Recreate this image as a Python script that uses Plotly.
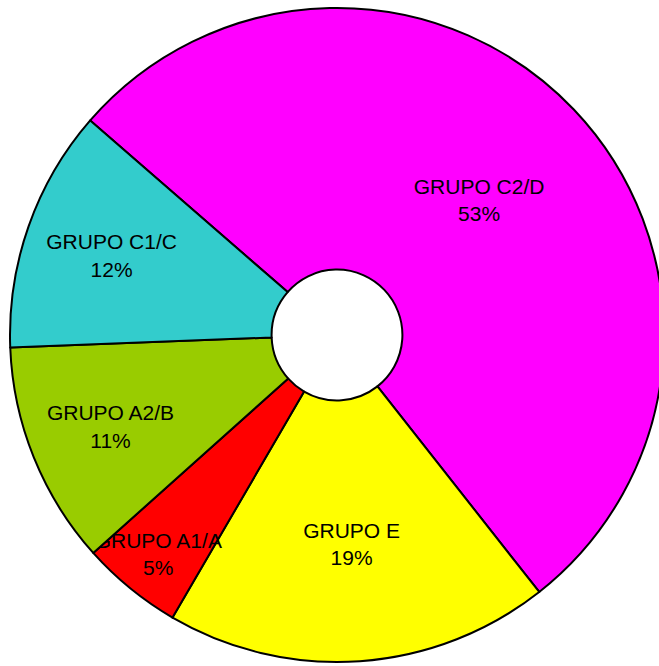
import plotly.graph_objects as go

labels = ["GRUPO C2/D", "GRUPO E", "GRUPO A1/A", "GRUPO A2/B", "GRUPO C1/C"]
values = [53, 19, 5, 11, 12]
colors = ["#FF00FF", "#FFFF00", "#FF0000", "#99CC00", "#33CCCC"]

# figure is wider than the window so the pie can run off the right edge, as in the reference
W, H = 680, 666
CX, CY, R = 337, 335, 327
x0 = (CX - R) / W
x1 = (CX + R) / W
y1 = 1 - (CY - R) / H
y0 = 1 - (CY + R) / H

fig = go.Figure(go.Pie(
    labels=labels,
    values=values,
    sort=False,
    direction="clockwise",
    rotation=-49,
    hole=0.2,
    marker=dict(colors=colors, line=dict(color="black", width=2)),
    texttemplate="%{label}<br>%{percent:.0%}",
    textposition="inside",
    insidetextorientation="horizontal",
    textfont=dict(family="Liberation Sans, Arial, sans-serif", size=21, color="black"),
    showlegend=False,
    hoverinfo="skip",
    domain=dict(x=[max(x0, 0), min(x1, 1)], y=[max(y0, 0), min(y1, 1)]),
))
fig.update_layout(
    width=W, height=H,
    margin=dict(l=0, r=0, t=0, b=0),
    paper_bgcolor="white",
    uniformtext=dict(minsize=21, mode="show"),
)
fig.write_html(
    "out.html",
    config={"displayModeBar": False, "staticPlot": True},
    post_script="document.body.style.margin='0';document.body.style.overflow='hidden';"
                "document.documentElement.style.overflow='hidden';",
)
